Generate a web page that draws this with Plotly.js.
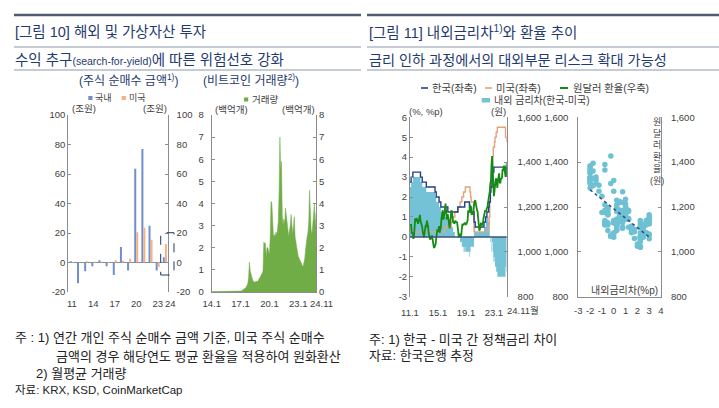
<!DOCTYPE html>
<html><head><meta charset="utf-8">
<script src="https://cdn.plot.ly/plotly-3.0.1.min.js"></script>
<style>html,body{margin:0;padding:0;background:#fff;}#chart{width:719px;height:408px;}</style>
</head><body><div id="chart"></div>
<script>
// ===== [그림 10] 주식 순매수 금액 (조원) =====
const stockYears = [2011,2012,2013,2014,2015,2016,2017,2018,2019,2020,2021,2022,2023,2024];
const domesticNetBuy = [0.8,-14,-6,-2.5,1.5,-2.5,-8.5,10.5,-5.5,63.5,77,25,-5.5,3.5];
const usNetBuy = [0.3,0.2,0.8,0.5,0.5,0.3,1.5,1.2,2.5,20.5,23.5,15.5,-3,12.5];
const stockTickVals = [2011,2014,2017,2020,2023];
const stockTickText = ['11','14','17','20','23'];
const stockYVals = [-20,0,20,40,60,80,100];
const stockYText = ['-20','0','20','40','60','80','100'];

// ===== 비트코인 거래량 (백억개, 월평균) 2014.1 ~ 2024.11 =====
const btcVolume = [
 0.02,0.02,0.02,0.01,0.01,0.01,0.01,0.01,0.01,0.01,0.01,0.01,
 0.01,0.01,0.01,0.01,0.01,0.01,0.01,0.02,0.01,0.02,0.02,0.02,
 0.02,0.02,0.02,0.02,0.02,0.03,0.03,0.02,0.02,0.02,0.03,0.03,
 0.04,0.05,0.07,0.10,0.14,0.16,0.18,0.22,0.28,0.38,0.65,1.35,
 0.95,0.75,0.62,0.55,0.48,0.45,0.44,0.47,0.50,0.45,0.52,0.58,
 0.60,0.68,0.75,0.85,0.95,2.25,2.20,2.20,1.60,2.00,2.00,1.80,
 1.70,2.60,4.10,4.00,3.00,2.50,2.60,2.50,2.70,2.60,2.80,3.20,
 4.50,7.00,5.50,5.90,3.50,3.00,3.30,3.10,3.80,3.50,3.20,2.80,
 2.50,2.80,3.00,3.50,3.00,2.60,3.00,3.40,2.50,2.20,2.00,1.80,
 1.60,1.50,1.40,1.30,1.25,1.20,1.15,1.30,1.50,1.90,2.30,2.50,
 2.70,3.20,4.60,3.50,2.80,2.60,3.00,3.30,4.00,2.90,3.60];
const btcTickVals = ['2014-01-01','2017-01-01','2020-01-01','2023-01-01'];
const btcTickText = ['14.1','17.1','20.1','23.1'];

// ===== [그림 11] 정책금리 (%), 원달러 환율 (원) 2011.1 ~ 2024.11 =====
const krRate = [
 2.75,2.75,3.00,3.00,3.00,3.25,3.25,3.25,3.25,3.25,3.25,3.25,
 3.25,3.25,3.25,3.25,3.25,3.25,3.00,3.00,3.00,2.75,2.75,2.75,
 2.75,2.75,2.75,2.75,2.50,2.50,2.50,2.50,2.50,2.50,2.50,2.50,
 2.50,2.50,2.50,2.50,2.50,2.50,2.50,2.25,2.25,2.00,2.00,2.00,
 2.00,2.00,1.75,1.75,1.75,1.50,1.50,1.50,1.50,1.50,1.50,1.50,
 1.50,1.50,1.50,1.50,1.50,1.25,1.25,1.25,1.25,1.25,1.25,1.25,
 1.25,1.25,1.25,1.25,1.25,1.25,1.25,1.25,1.25,1.25,1.50,1.50,
 1.50,1.50,1.50,1.50,1.50,1.50,1.50,1.50,1.50,1.50,1.75,1.75,
 1.75,1.75,1.75,1.75,1.75,1.75,1.50,1.50,1.50,1.25,1.25,1.25,
 1.25,1.25,0.75,0.75,0.50,0.50,0.50,0.50,0.50,0.50,0.50,0.50,
 0.50,0.50,0.50,0.50,0.50,0.50,0.50,0.75,0.75,0.75,1.00,1.00,
 1.25,1.25,1.25,1.50,1.75,1.75,2.25,2.50,2.50,3.00,3.25,3.25,
 3.50,3.50,3.50,3.50,3.50,3.50,3.50,3.50,3.50,3.50,3.50,3.50,
 3.50,3.50,3.50,3.50,3.50,3.50,3.50,3.50,3.50,3.25,3.00];
const usRate = [
 0.25,0.25,0.25,0.25,0.25,0.25,0.25,0.25,0.25,0.25,0.25,0.25,
 0.25,0.25,0.25,0.25,0.25,0.25,0.25,0.25,0.25,0.25,0.25,0.25,
 0.25,0.25,0.25,0.25,0.25,0.25,0.25,0.25,0.25,0.25,0.25,0.25,
 0.25,0.25,0.25,0.25,0.25,0.25,0.25,0.25,0.25,0.25,0.25,0.25,
 0.25,0.25,0.25,0.25,0.25,0.25,0.25,0.25,0.25,0.25,0.25,0.50,
 0.50,0.50,0.50,0.50,0.50,0.50,0.50,0.50,0.50,0.50,0.50,0.75,
 0.75,0.75,1.00,1.00,1.00,1.25,1.25,1.25,1.25,1.25,1.25,1.50,
 1.50,1.50,1.75,1.75,1.75,2.00,2.00,2.00,2.25,2.25,2.25,2.50,
 2.50,2.50,2.50,2.50,2.50,2.50,2.50,2.25,2.00,1.75,1.75,1.75,
 1.75,1.75,0.25,0.25,0.25,0.25,0.25,0.25,0.25,0.25,0.25,0.25,
 0.25,0.25,0.25,0.25,0.25,0.25,0.25,0.25,0.25,0.25,0.25,0.25,
 0.25,0.25,0.50,0.50,1.00,1.75,2.50,2.50,3.25,3.25,4.00,4.50,
 4.50,4.75,5.00,5.00,5.25,5.25,5.50,5.50,5.50,5.50,5.50,5.50,
 5.50,5.50,5.50,5.50,5.50,5.50,5.50,5.50,5.00,5.00,4.75];
const krwUsd = [
 1120,1118,1120,1085,1085,1080,1058,1075,1130,1150,1135,1150,
 1145,1125,1125,1135,1155,1165,1140,1132,1125,1110,1088,1075,
 1065,1085,1100,1120,1110,1140,1125,1115,1085,1065,1060,1055,
 1065,1070,1070,1045,1025,1020,1020,1025,1035,1060,1100,1100,
 1090,1100,1115,1085,1095,1110,1145,1180,1185,1145,1150,1170,
 1200,1215,1185,1145,1165,1165,1145,1110,1105,1130,1160,1185,
 1180,1140,1130,1135,1125,1130,1140,1130,1135,1130,1100,1085,
 1065,1080,1070,1068,1075,1095,1125,1120,1120,1130,1130,1125,
 1122,1125,1131,1140,1185,1175,1175,1210,1195,1185,1165,1175,
 1165,1195,1220,1225,1230,1210,1200,1187,1180,1145,1115,1095,
 1100,1112,1130,1120,1122,1120,1145,1160,1170,1185,1182,1183,
 1195,1200,1220,1235,1268,1270,1305,1318,1390,1427,1365,1297,
 1248,1270,1305,1320,1328,1295,1285,1318,1328,1350,1310,1305,
 1323,1331,1331,1368,1366,1380,1384,1355,1334,1360,1395];
const rateTickVals = ['2011-01-01','2015-01-01','2019-01-01','2023-01-01'];
const rateTickText = ['11.1','15.1','19.1','23.1'];
const rateYVals = [-3,-2,-1,0,1,2,3,4,5,6];
const rateYText = ['-3','-2','-1','0','1','2','3','4','5','6'];
const spreadXVals = [-3,-2,-1,0,1,2,3,4];
const spreadXText = ['-3','-2','-1','0','1','2','3','4'];

// month categories
function monthSeq(y, m, n){ const out=[]; for(let i=0;i<n;i++){ const yy=y+Math.floor((m-1+i)/12), mm=((m-1+i)%12)+1; out.push(yy+'-'+String(mm).padStart(2,'0')+'-01'); } return out; }
const btcMonths = monthSeq(2014,1,btcVolume.length);
const rateMonths = monthSeq(2011,1,krRate.length);
// 내외 금리차 = 한국 - 미국 (footnote definition)
const spread = krRate.map((v,i)=>+(v-usRate[i]).toFixed(2));
// linear trend of exchange rate on spread
const n = spread.length;
const mx = spread.reduce((a,b)=>a+b,0)/n, my = krwUsd.reduce((a,b)=>a+b,0)/n;
let sxy=0,sxx=0; for(let i=0;i<n;i++){ sxy+=(spread[i]-mx)*(krwUsd[i]-my); sxx+=(spread[i]-mx)**2; }
const slope=sxy/sxx, icpt=my-slope*mx;
const trendX=[Math.min(...spread), Math.max(...spread)];
const trendY=trendX.map(x=>icpt+slope*x);

// ---- layout helpers (pixel -> paper) ----
const W=719,H=408;
const px=v=>v/W, py=v=>1-v/H;
const FONT='Liberation Sans, Noto Sans CJK KR, sans-serif';
const NAVY='#1F3A70', AX='#8c8c8c', TXT='#404040', CLEAR='rgba(0,0,0,0)';
const D1=[py(292),py(115)], D2=[py(296.7),py(117.3)];
const base={showgrid:false,zeroline:false,linecolor:AX,linewidth:1,tickfont:{size:9.5,color:TXT,family:FONT},ticks:'inside',ticklen:3,tickcolor:AX,fixedrange:true,tickangle:0};
const ax=o=>Object.assign({},base,o);

const traces=[
 {type:'bar',x:stockYears,y:domesticNetBuy,name:'국내',marker:{color:'#6E8FD0'},xaxis:'x',yaxis:'y'},
 {type:'bar',x:stockYears,y:usNetBuy,name:'미국',marker:{color:'#F4B183'},xaxis:'x',yaxis:'y'},
 {type:'scatter',mode:'none',x:stockYears,y:domesticNetBuy,xaxis:'x',yaxis:'y2'},
 {type:'scatter',x:btcMonths,y:btcVolume,name:'거래량',mode:'lines',fill:'tozeroy',fillcolor:'#70AD47',line:{color:'#70AD47',width:0.5},xaxis:'x2',yaxis:'y3'},
 {type:'scatter',mode:'none',x:btcMonths,y:btcVolume,xaxis:'x2',yaxis:'y4'},
 {type:'scatter',x:rateMonths,y:spread,name:'내외 금리차(한국-미국)',mode:'lines',fill:'tozeroy',fillcolor:'#74C2D6',line:{color:'#74C2D6',width:0,shape:'hv'},xaxis:'x3',yaxis:'y5'},
 {type:'scatter',x:rateMonths,y:usRate,name:'미국(좌축)',mode:'lines',line:{color:'#E8A27A',width:1.4,shape:'hv'},xaxis:'x3',yaxis:'y5'},
 {type:'scatter',x:rateMonths,y:krRate,name:'한국(좌축)',mode:'lines',line:{color:'#22408A',width:1.4,shape:'hv'},xaxis:'x3',yaxis:'y5'},
 {type:'scatter',x:rateMonths,y:krwUsd,name:'원달러 환율(우축)',mode:'lines',line:{color:'#148C14',width:1.8},xaxis:'x3',yaxis:'y6'},
 {type:'scatter',x:spread,y:krwUsd,mode:'markers',marker:{color:'#6EC1D3',size:5.5},xaxis:'x4',yaxis:'y7'},
 {type:'scatter',mode:'none',x:spread,y:krwUsd,xaxis:'x4',yaxis:'y8'},
 {type:'scatter',x:trendX,y:trendY,mode:'lines',line:{color:'#2A4B8C',width:1.5,dash:'dot'},xaxis:'x4',yaxis:'y7'}
];

const layout={
 width:W,height:H,margin:{l:0,r:0,t:0,b:0},paper_bgcolor:'#fff',plot_bgcolor:'rgba(0,0,0,0)',
 showlegend:false,hovermode:false,barmode:'group',bargap:0.44,bargroupgap:0,
 font:{family:FONT,color:TXT,size:9.5},
 xaxis:ax({domain:[px(68.3),px(167.7)],anchor:'y',range:[2010.5,2024.4],tickmode:'array',tickvals:stockTickVals,ticktext:stockTickText,showline:false,ticks:'outside',ticklen:3,tickcolor:CLEAR}),
 yaxis:ax({domain:D1,anchor:'x',range:[-20,100],tickmode:'array',tickvals:stockYVals,ticktext:stockYText,showline:true,zeroline:true,zerolinecolor:AX,zerolinewidth:1,ticklabelstandoff:3.5}),
 yaxis2:ax({overlaying:'y',anchor:'x',side:'right',range:[-20,100],tickmode:'array',tickvals:stockYVals,ticktext:stockYText,showline:true,ticklabelstandoff:6}),
 xaxis2:ax({domain:[px(211.7),px(316)],anchor:'y3',type:'date',range:['2014-01-01','2024-11-01'],tickmode:'array',tickvals:btcTickVals,ticktext:btcTickText,showline:true,ticks:'outside',ticklen:3,tickcolor:CLEAR}),
 yaxis3:ax({domain:D1,anchor:'x2',range:[0,8],dtick:1,showline:true,ticklabelstandoff:5}),
 yaxis4:ax({overlaying:'y3',anchor:'x2',side:'right',range:[0,8],dtick:1,showline:true,ticklabelstandoff:5.5}),
 xaxis3:ax({domain:[px(410),px(506.7)],anchor:'y5',type:'date',range:['2011-01-01','2024-11-01'],tickmode:'array',tickvals:rateTickVals,ticktext:rateTickText,showline:false,ticks:'outside',ticklen:7,tickcolor:CLEAR}),
 yaxis5:ax({domain:D2,anchor:'x3',range:[-3,6],tickmode:'array',tickvals:rateYVals,ticktext:rateYText,showline:true,ticklabelstandoff:3.5}),
 yaxis6:ax({overlaying:'y5',anchor:'x3',side:'right',range:[800,1600],dtick:200,tickformat:',d',showline:true,ticklabelstandoff:8}),
 xaxis4:ax({domain:[px(578.3),px(661)],anchor:'y7',range:[-3,4],tickmode:'array',tickvals:spreadXVals,ticktext:spreadXText,showline:true,ticks:'',ticklabelstandoff:5}),
 yaxis7:ax({domain:D2,anchor:'x4',range:[800,1600],dtick:200,tickformat:',d',showline:true,ticklabelstandoff:7}),
 yaxis8:ax({overlaying:'y7',anchor:'x4',side:'right',range:[800,1600],dtick:200,tickformat:',d',showline:true,ticklabelstandoff:7}),
 shapes:[],annotations:[]
};

const S=layout.shapes, A=layout.annotations;
function hline(x0,x1,y,color,w){S.push({type:'line',xref:'paper',yref:'paper',x0:px(x0),x1:px(x1),y0:py(y),y1:py(y),line:{color:color,width:w}});}
function box(x0,x1,y0,y1,color){S.push({type:'rect',xref:'paper',yref:'paper',x0:px(x0),x1:px(x1),y0:py(y1),y1:py(y0),fillcolor:color,line:{width:0}});}
function txt(t,x,y,size,color,anchor){A.push({text:t,x:px(x),y:py(y),xref:'paper',yref:'paper',showarrow:false,xanchor:anchor||'left',yanchor:'middle',font:{size:size,color:color||TXT,family:FONT},borderpad:0});}

// header rules
hline(14,361,15,'#4F5B6E',2.5); hline(367,719,15,'#4F5B6E',2.5);
hline(14,361,47,'#8D99AA',1); hline(367,719,47,'#8D99AA',1);
hline(14,361,70,'#8D99AA',1); hline(367,719,70,'#8D99AA',1);
// titles
txt('[그림 10] 해외 및 가상자산 투자',14,32,14.5,NAVY);
txt('수익 추구<span style="font-size:10.5px">(search-for-yield)</span>에 따른 위험선호 강화',14,60,14.5,NAVY);
txt('(주식 순매수 금액<sup>1)</sup>)',128,80,12,NAVY,'center');
txt('(비트코인 거래량<sup>2)</sup>)',251,80,12,NAVY,'center');
txt('[그림 11] 내외금리차<sup>1)</sup>와 환율 추이',368,32,14.5,NAVY);
txt('금리 인하 과정에서의 대외부문 리스크 확대 가능성',368,60,14.2,NAVY);

// chart 1 legend & units
box(88.3,92.5,96,100,'#6E8FD0'); txt('국내',94.5,98,9);
box(121.7,125.9,96,100,'#F4B183'); txt('미국',128,98,9);
txt('(조원)',83.5,108.5,9.5,TXT,'center'); txt('(조원)',155,108.5,9.5,TXT,'center');
txt('24',170,303,9.5,TXT,'center');
S.push({type:'rect',xref:'paper',yref:'paper',x0:px(160.7),x1:px(174),y0:py(275),y1:py(232.7),line:{color:'#1F3864',width:1,dash:'dash'}});
// chart 2 legend & units
box(244,248.2,97.5,101.5,'#70AD47'); txt('거래량',251,99.5,9.5);
txt('(백억개)',231,109.5,9.5,TXT,'center'); txt('(백억개)',298.5,109.5,9.5,TXT,'center');
txt('24.11',321.5,303,9.5,TXT,'center');
// chart 3 legend & units
hline(421,428,88,'#22408A',1.6); txt('한국(좌축)',431,88,10.3);
hline(485,492,88,'#E8A27A',1.6); txt('미국(좌축)',495,88,10.3);
hline(560,568,88,'#148C14',2); txt('원달러 환율(우축)',572,88,10.3);
box(481.7,490,98,102.5,'#74C2D6'); txt('내외 금리차(한국-미국)',492.5,100,10);
txt('(%, %p)',426.5,111.5,9.5,TXT,'center'); txt('(원)',498,111.5,9.5,TXT,'center');
txt('24.11월',506,310.7,9.5);
S.push({type:'line',xref:'x3 domain',yref:'y5',x0:0,x1:1,y0:0,y1:0,line:{color:'#3A5478',width:1.5}});
// chart 4 labels
txt('내외금리차(%p)',624,290,10,TXT,'center');
A.push({text:'원<br>달<br>러<br>환<br>율<br>(원)',x:px(656.5),y:py(115.5),xref:'paper',yref:'paper',showarrow:false,xanchor:'center',yanchor:'top',font:{size:9,color:TXT,family:FONT},borderpad:0});

// notes
txt('주 : 1) 연간 개인 주식 순매수 금액 기준, 미국 주식 순매수',14,337,13,'#222');
txt('금액의 경우 해당연도 평균 환율을 적용하여 원화환산',55,356,13,'#222');
txt('2) 월평균 거래량',35,373,13,'#222');
txt('자료: KRX, KSD, CoinMarketCap',14,390,11.5,'#222');
txt('주: 1) 한국 - 미국 간 정책금리 차이',368,339,13,'#222');
txt('자료: 한국은행 추정',368,355,12.8,'#222');

Plotly.newPlot('chart',traces,layout,{staticPlot:true,displayModeBar:false});
</script></body></html>
